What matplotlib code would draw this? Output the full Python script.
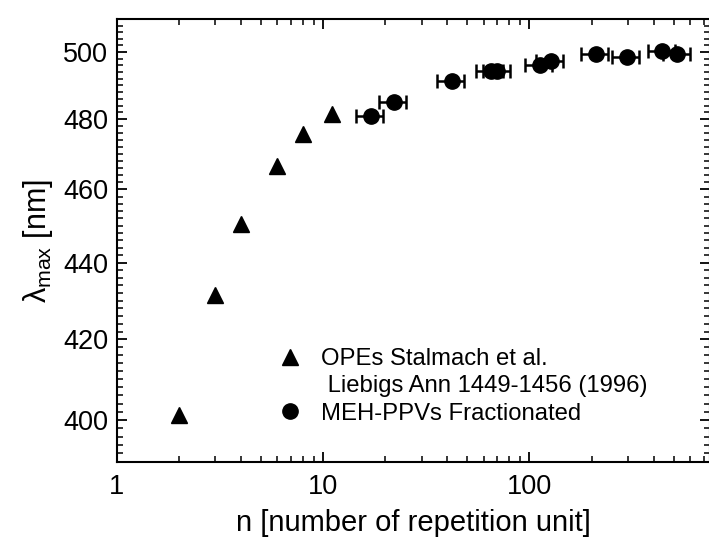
import matplotlib
matplotlib.use('Agg')
import matplotlib.pyplot as plt
from matplotlib.ticker import FixedLocator, NullFormatter, FixedFormatter
from matplotlib.lines import Line2D

plt.rcParams['font.family'] = ['Liberation Sans', 'DejaVu Sans']
plt.rcParams['mathtext.fontset'] = 'custom'
plt.rcParams['mathtext.rm'] = 'Liberation Sans'
plt.rcParams['mathtext.it'] = 'Liberation Sans'

# OPE oligomers (Stalmach et al.)
ope_n = [2, 3, 4, 6, 8, 11]
ope_lmax = [401.3, 431.4, 450.6, 466.7, 475.6, 481.6]

# MEH-PPV fractions
ppv_n = [17, 22, 42, 65, 70, 112, 127, 210, 296, 440, 520]
ppv_lmax = [481.1, 485.2, 491.4, 494.2, 494.2, 496.2, 497.4, 499.4, 498.4, 500.4, 499.4]
ppv_err_frac = 0.15

y_major = [400, 420, 440, 460, 480, 500]
y_minor = list(range(390, 512, 2))

fig = plt.figure(figsize=(7.09, 5.38), dpi=100)
ax = fig.add_axes([0.1646, 0.1418, 0.8368, 0.8223])

ax.plot(ope_n, ope_lmax, linestyle='none', marker='^', markersize=12,
        color='black', label='OPEs Stalmach et al.')
xerr = [n * ppv_err_frac for n in ppv_n]
ax.errorbar(ppv_n, ppv_lmax, xerr=xerr, linestyle='none', marker='o',
            markersize=11, color='black', ecolor='black', elinewidth=1.8,
            capsize=5, capthick=1.8, label='MEH-PPVs Fractionated')

ax.set_xscale('log')
ax.set_yscale('log')
ax.set_xlim(1, 750)
ax.set_ylim(390, 510)

ax.xaxis.set_major_locator(FixedLocator([1, 10, 100]))
ax.xaxis.set_major_formatter(FixedFormatter(['1', '10', '100']))
ax.xaxis.set_minor_locator(FixedLocator([k * 10 ** d for d in range(3) for k in range(2, 10)]))
ax.xaxis.set_minor_formatter(NullFormatter())
ax.yaxis.set_major_locator(FixedLocator(y_major))
ax.yaxis.set_major_formatter(FixedFormatter([str(v) for v in y_major]))
ax.yaxis.set_minor_locator(FixedLocator(y_minor))
ax.yaxis.set_minor_formatter(NullFormatter())

ax.tick_params(which='both', direction='in', top=True, right=True, labelsize=19.5)
ax.tick_params(which='major', length=7, width=1.3, pad=6)
ax.tick_params(which='minor', length=4, width=1.1)
ax.tick_params(axis='x', which='major', pad=9)
for s in ax.spines.values():
    s.set_linewidth(1.5)

ax.set_xlabel('n [number of repetition unit]', fontsize=21, labelpad=6)
ax.set_ylabel(r'$\lambda_{\mathrm{max}}$ [nm]', fontsize=22, labelpad=6)

h_ope = Line2D([], [], linestyle='none', marker='^', markersize=12, color='black')
h_blank = Line2D([], [], linestyle='none')
h_ppv = Line2D([], [], linestyle='none', marker='o', markersize=11, color='black')
ax.legend([h_ope, h_blank, h_ppv],
          ['OPEs Stalmach et al.', ' Liebigs Ann 1449-1456 (1996)', 'MEH-PPVs Fractionated'],
          loc='lower left', bbox_to_anchor=(0.235, 0.035), frameon=False,
          fontsize=17.2, handlelength=1.0, handletextpad=0.8, labelspacing=0.22)

fig.savefig('out.png', dpi=100)
